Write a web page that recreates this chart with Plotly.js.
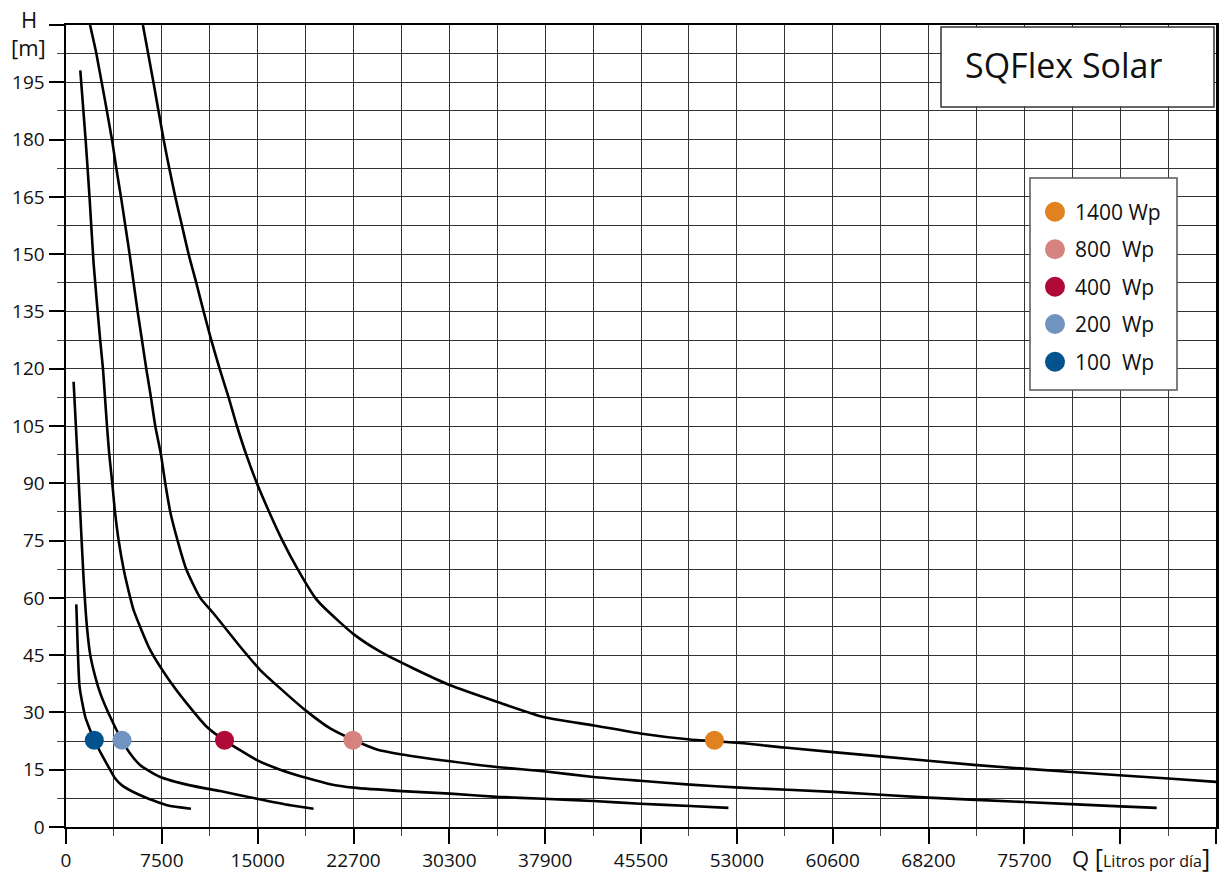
<!DOCTYPE html>
<html><head><meta charset="utf-8">
<script src="https://cdn.plot.ly/plotly-3.0.1.min.js"></script>
<style>html,body{margin:0;padding:0;background:#fff}#chart{width:1220px;height:877px}</style>
</head><body><div id="chart"></div>
<script>
// Flow Q in litres per day, head H in metres
const q100 = [813, 917, 1074, 1524, 1919, 2235, 2840, 3364, 3890, 4423, 5868, 7977, 9872];
const h100 = [58.3, 48.0, 36.7, 28.8, 25.3, 22.7, 18.8, 15.7, 12.7, 10.9, 8.3, 5.7, 4.8];

const q200 = [600, 866, 1129, 1390, 1655, 1919, 2314, 2709, 3499, 4423, 5078, 5868, 7448, 9818, 12187, 15085, 17715, 19556];
const h200 = [116.6, 99.6, 82.1, 65.0, 52.4, 45.0, 39.3, 35.0, 28.8, 22.7, 19.2, 16.2, 13.1, 10.9, 9.4, 7.4, 5.7, 4.8];

const q400 = [1130, 1548, 1864, 2180, 2700, 2920, 3080, 3238, 3420, 3657, 3870, 4160, 4555, 5080, 5340, 6658, 7977, 9557, 11136, 12526, 15085, 16925, 19034, 20874, 22717, 26535, 30352, 34034, 37720, 41670, 45360, 49306, 52330];
const h400 = [198.1, 180, 164.6, 147.6, 127.5, 120, 112.5, 105, 97.5, 90, 82.5, 75, 67.5, 60, 56.8, 46.3, 39.3, 32.3, 26.2, 22.7, 17.5, 15.0, 12.8, 11.2, 10.3, 9.4, 8.75, 7.9, 7.4, 6.8, 6.1, 5.5, 5.0];

const q800 = [1900, 2393, 3631, 3973, 4342, 4684, 5026, 5342, 5658, 6000, 6342, 6711, 7053, 7500, 7843, 8238, 8817, 9501, 10607, 11661, 13766, 15345, 16925, 18900, 20874, 22635, 24560, 26535, 30352, 34034, 37720, 41670, 45360, 49306, 53255, 60625, 68124, 75690, 83283, 86163];
const h800 = [210, 202.6, 180, 172.5, 165, 157.5, 150, 142.5, 135, 127.5, 120, 112.5, 105, 97.5, 90, 82.5, 75, 67.5, 60, 55.9, 47.2, 41.1, 36.3, 30.6, 25.8, 22.9, 20.3, 19.0, 17.2, 15.7, 14.6, 13.1, 12.1, 11.1, 10.3, 9.2, 7.7, 6.55, 5.4, 5.0];

const q1400 = [6075, 6917, 7711, 8159, 8633, 9160, 9686, 10291, 10870, 11476, 12134, 12845, 13503, 14240, 15082, 16050, 17100, 18300, 19690, 20345, 22717, 24823, 27455, 30352, 34034, 37720, 41670, 45360, 49306, 53255, 56754, 64312, 71950, 79453, 87086, 90890];
const h1400 = [210, 194.8, 180, 172.5, 165, 157.5, 150, 142.5, 135, 127.5, 120, 112.5, 105, 97.5, 90, 82.5, 75, 67.5, 60, 57.6, 50.5, 45.9, 41.5, 37.1, 32.8, 28.8, 26.6, 24.5, 22.9, 22.0, 20.8, 18.5, 16.2, 14.4, 12.7, 11.8];

// Series (legend order) and duty points marked with coloured dots
const seriesNames = ['1400 Wp', '800\u00a0\u00a0Wp', '400\u00a0\u00a0Wp', '200\u00a0\u00a0Wp', '100\u00a0\u00a0Wp'];
const seriesColors = ['#E0821F', '#D6837F', '#AF0937', '#7193BF', '#02538D'];
const dutyQ = [51226, 22665, 12526, 4423, 2235];
const dutyH = [22.7, 22.7, 22.7, 22.7, 22.7];

// Axis ticks: Q labels are the litre equivalents of every 2000 US gal
const xTickStep = 7570.8;
const xTickLabels = ['0', '7500', '15000', '22700', '30300', '37900', '45500', '53000', '60600', '68200', '75700', '', ''];
const yTickLabels = ['0', '15', '30', '45', '60', '75', '90', '105', '120', '135', '150', '165', '180', '195', ''];
const yTickStep = 15;

const curvesQ = [q100, q200, q400, q800, q1400];
const curvesH = [h100, h200, h400, h800, h1400];

const FONT = '"Open Sans", "Noto Sans", sans-serif';
const M = {l: 66, r: 4, t: 25, b: 50};
const W = 1220 - M.l - M.r, H = 877 - M.t - M.b;
const px = x => (x - M.l) / W;
const py = y => (877 - M.b - y) / H;

const traces = curvesQ.map((q, i) => ({
  type: 'scatter', mode: 'lines', x: q, y: curvesH[i],
  line: {color: '#000', width: 2.6, shape: 'spline', smoothing: 0.6},
  hoverinfo: 'x+y', showlegend: false
}));
traces.push({
  type: 'scatter', mode: 'markers', x: dutyQ, y: dutyH, text: seriesNames,
  marker: {color: seriesColors, size: 19, line: {width: 0}},
  showlegend: false, hoverinfo: 'text+x+y'
});

const xTickVals = xTickLabels.map((_, i) => i * xTickStep);
const xMinor = xTickVals.slice(0, -1).map(v => v + xTickStep / 2);
const yTickVals = yTickLabels.map((_, i) => i * yTickStep);
const yMinor = yTickVals.slice(0, -1).map(v => v + yTickStep / 2);

const gridC = '#333';
const layout = {
  width: 1220, height: 877, margin: M,
  paper_bgcolor: '#fff', plot_bgcolor: '#fff',
  font: {family: FONT, color: '#111', size: 19},
  showlegend: false,
  title: {text: 'SQFlex Solar', font: {family: FONT, size: 34, color: '#111'},
          xref: 'paper', yref: 'paper', x: px(965), xanchor: 'left', y: py(66), yanchor: 'middle'},
  xaxis: {
    range: [0, 12 * xTickStep], tickmode: 'array', tickvals: xTickVals, ticktext: xTickLabels,
    ticks: 'outside', ticklen: 15, tickwidth: 2, tickcolor: '#000',
    showline: true, linecolor: '#000', linewidth: 2, mirror: true,
    showgrid: true, gridcolor: gridC, gridwidth: 1, zeroline: false,
    tickfont: {family: FONT, size: 19, color: '#111'},
    minor: {tickmode: 'array', tickvals: xMinor, ticks: 'outside', ticklen: 7, tickwidth: 1,
            tickcolor: '#444', showgrid: true, gridcolor: gridC, gridwidth: 1}
  },
  yaxis: {
    range: [0, 14 * yTickStep], tickmode: 'array', tickvals: yTickVals, ticktext: yTickLabels,
    ticks: 'outside', ticklen: 15, tickwidth: 2, tickcolor: '#000',
    showline: true, linecolor: '#000', linewidth: 2.5, mirror: true,
    showgrid: true, gridcolor: gridC, gridwidth: 1, zeroline: false,
    tickfont: {family: FONT, size: 19, color: '#111'},
    minor: {tickmode: 'array', tickvals: yMinor, ticks: 'outside', ticklen: 7, tickwidth: 1,
            tickcolor: '#444', showgrid: true, gridcolor: gridC, gridwidth: 1}
  },
  shapes: [
    {type: 'rect', xref: 'paper', yref: 'paper', layer: 'above',
     x0: px(941), x1: px(1214), y0: py(107), y1: py(27),
     fillcolor: '#fff', line: {color: '#333', width: 1.5}},
    {type: 'rect', xref: 'paper', yref: 'paper', layer: 'above',
     x0: px(1030), x1: px(1177), y0: py(390), y1: py(178),
     fillcolor: '#fff', line: {color: '#555', width: 1.5}}
  ],
  annotations: [
    {xref: 'paper', yref: 'paper', x: px(28.5), y: py(19.5), text: 'H', showarrow: false,
     xanchor: 'center', yanchor: 'middle', font: {family: FONT, size: 22, color: '#111'}},
    {xref: 'paper', yref: 'paper', x: px(28.5), y: py(47), text: '[m]', showarrow: false,
     xanchor: 'center', yanchor: 'middle', font: {family: FONT, size: 22, color: '#111'}},
    {xref: 'paper', yref: 'paper', x: px(1070), y: py(857), showarrow: false,
     xanchor: 'left', yanchor: 'middle', font: {family: FONT, size: 22, color: '#111'},
     text: 'Q <span style="font-size:25px">[</span><span style="font-size:16px">Litros por día</span><span style="font-size:25px">]</span>'}
  ]
};

const rowY = [211.7, 249.3, 286.7, 324, 361.7];
seriesNames.forEach((name, i) => {
  layout.shapes.push({
    type: 'circle', xref: 'paper', yref: 'paper', layer: 'above',
    xsizemode: 'pixel', ysizemode: 'pixel', xanchor: px(1055), yanchor: py(rowY[i]),
    x0: -10, x1: 10, y0: -10, y1: 10,
    fillcolor: seriesColors[i], line: {width: 0}
  });
  layout.annotations.push({
    xref: 'paper', yref: 'paper', x: px(1073), y: py(rowY[i]), text: name, showarrow: false,
    xanchor: 'left', yanchor: 'middle', font: {family: FONT, size: 21, color: '#111'}
  });
});

Plotly.newPlot('chart', traces, layout, {displayModeBar: false, staticPlot: true});
</script>
</body></html>
